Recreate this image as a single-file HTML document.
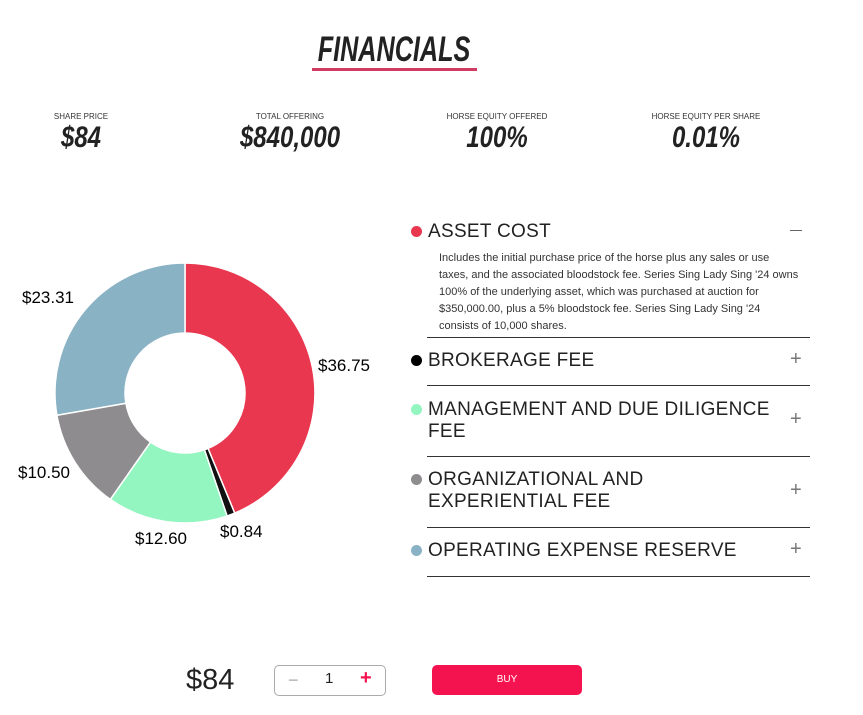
<!DOCTYPE html>
<html><head><style>
body{margin:0;width:863px;height:715px;background:#fff;position:relative;font-family:"Liberation Sans",sans-serif;overflow:hidden}
.a{position:absolute}
.cond{font-weight:bold;font-style:italic;color:#222;transform:scaleX(0.8);transform-origin:center;white-space:nowrap;text-align:center}
.lab{font-size:8px;color:#333;text-align:center;width:200px}
.val{font-size:30px;width:240px}
.t{font-size:19px;color:#222;font-weight:300;letter-spacing:0.3px;line-height:22px}
.dot{width:11px;height:11px;border-radius:50%}
.ln{left:427px;width:383px;height:1px;background:#333}
.pl{left:790px;font-size:20px;color:#777;font-weight:300}
</style></head><body>
<div class="a cond" style="left:274px;top:30px;width:240px;font-size:35px;transform:scaleX(0.72)">FINANCIALS</div>
<div class="a" style="left:312px;top:68px;width:165px;height:3px;background:#d03a63"></div>

<div class="a lab" style="left:-19px;top:112px">SHARE PRICE</div>
<div class="a lab" style="left:190px;top:112px">TOTAL OFFERING</div>
<div class="a lab" style="left:397px;top:112px">HORSE EQUITY OFFERED</div>
<div class="a lab" style="left:606px;top:112px">HORSE EQUITY PER SHARE</div>
<div class="a cond val" style="left:-39px;top:121px">$84</div>
<div class="a cond val" style="left:170px;top:121px">$840,000</div>
<div class="a cond val" style="left:377px;top:121px">100%</div>
<div class="a cond val" style="left:586px;top:121px">0.01%</div>

<svg class="a" style="left:0;top:0" width="400" height="600">
<g stroke="#fff" stroke-width="1.5">
<path fill="#e8374f" d="M185,263 A130,130 0 0 1 234.7,513.1 L208,448.4 A60,60 0 0 0 185,333 Z"/>
<path fill="#111" d="M234.7,513.1 A130,130 0 0 1 227.1,516 L204.4,449.8 A60,60 0 0 0 208,448.4 Z"/>
<path fill="#93f5c0" d="M227.1,516 A130,130 0 0 1 110.3,499.4 L150.5,442.1 A60,60 0 0 0 204.4,449.8 Z"/>
<path fill="#8e8c8e" d="M110.3,499.4 A130,130 0 0 1 56.9,415.3 L125.9,403.3 A60,60 0 0 0 150.5,442.1 Z"/>
<path fill="#8ab2c5" d="M56.9,415.3 A130,130 0 0 1 185,263 L185,333 A60,60 0 0 0 125.9,403.3 Z"/>
</g>
<g font-family="Liberation Sans, sans-serif" font-size="17" fill="#000">
<text x="22" y="303">$23.31</text>
<text x="318" y="371">$36.75</text>
<text x="18" y="478">$10.50</text>
<text x="135" y="544">$12.60</text>
<text x="220" y="537">$0.84</text>
</g>
</svg>

<div class="a dot" style="left:411px;top:226px;background:#e8374f"></div>
<div class="a t" style="left:428px;top:221px">ASSET COST</div>
<div class="a" style="left:790px;top:230px;width:12px;height:1px;background:#666"></div>
<div class="a" style="left:439px;top:250px;width:362px;font-size:11px;line-height:17px;color:#333">Includes the initial purchase price of the horse plus any sales or use taxes, and the associated bloodstock fee. Series Sing Lady Sing '24 owns 100% of the underlying asset, which was purchased at auction for $350,000.00, plus a 5% bloodstock fee. Series Sing Lady Sing '24 consists of 10,000 shares.</div>
<div class="a ln" style="top:337px"></div>

<div class="a dot" style="left:411px;top:355px;background:#000"></div>
<div class="a t" style="left:428px;top:350px">BROKERAGE FEE</div>
<div class="a pl" style="top:348px">+</div>
<div class="a ln" style="top:385px"></div>

<div class="a dot" style="left:411px;top:404px;background:#93f5c0"></div>
<div class="a t" style="left:428px;top:399px">MANAGEMENT AND DUE DILIGENCE<br>FEE</div>
<div class="a pl" style="top:408px">+</div>
<div class="a ln" style="top:456px"></div>

<div class="a dot" style="left:411px;top:474px;background:#8e8c8e"></div>
<div class="a t" style="left:428px;top:469px">ORGANIZATIONAL AND<br>EXPERIENTIAL FEE</div>
<div class="a pl" style="top:479px">+</div>
<div class="a ln" style="top:527px"></div>

<div class="a dot" style="left:411px;top:545px;background:#8ab2c5"></div>
<div class="a t" style="left:428px;top:540px">OPERATING EXPENSE RESERVE</div>
<div class="a pl" style="top:538px">+</div>
<div class="a ln" style="top:576px"></div>

<div class="a" style="left:186px;top:664px;font-size:29px;color:#222">$84</div>
<div class="a" style="left:274px;top:665px;width:110px;height:29px;border:1px solid #aaa;border-radius:5px"></div>
<div class="a" style="left:288px;top:670px;font-size:18px;color:#aaa">−</div>
<div class="a" style="left:325px;top:670px;font-size:15px;color:#222">1</div>
<div class="a" style="left:360px;top:667px;font-size:20px;color:#f5134f;font-weight:bold">+</div>
<div class="a" style="left:432px;top:665px;width:150px;height:30px;background:#f5134f;border-radius:5px;color:#fff;font-size:10px;text-align:center;line-height:30px">BUY</div>
</body></html>
